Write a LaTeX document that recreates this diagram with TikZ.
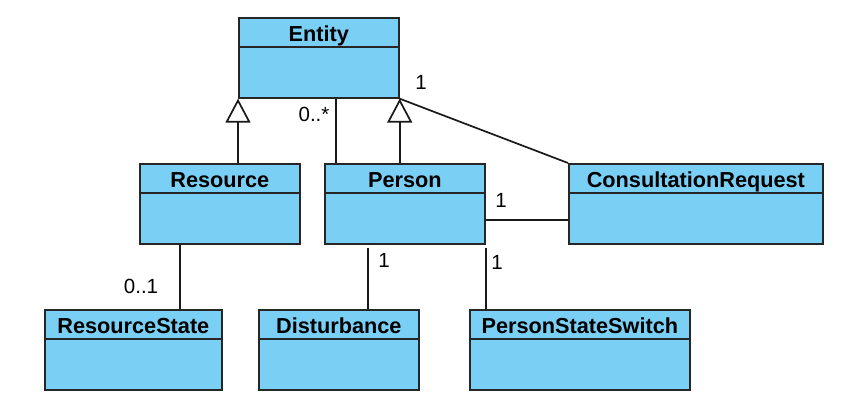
\documentclass[tikz,border=0pt]{standalone}
\usepackage{fontspec}
\setmainfont{Liberation Sans}
\usepackage{tikz}
\usetikzlibrary{arrows.meta,calc}

\definecolor{classblue}{RGB}{122,207,245}

\tikzset{
  classbox/.style={draw=black!85,line width=1.7pt,fill=classblue,minimum height=80pt,inner sep=0pt},
  classtitle/.style={font=\fontsize{21.7}{25}\selectfont\bfseries,inner sep=0pt,anchor=base},
  mult/.style={font=\fontsize{20.5}{24}\selectfont,inner sep=0pt},
  assoc/.style={line width=1.7pt,draw=black!90},
  inherit/.style={line width=1.7pt,draw=black!90,-{Triangle[open,length=24pt,width=25pt,fill=white]}}
}

% name, left, top, width, title
\newcommand{\umlclass}[5]{%
  \node[classbox,minimum width=#4pt,anchor=north west] (#1) at (#2,#3) {};
  \draw[line width=1.7pt,draw=black!85] ([yshift=-30pt]#1.north west) -- ([yshift=-30pt]#1.north east);
  \node[classtitle] (#1-title) at ([yshift=-24.5pt]#1.north) {#5};
}

\begin{document}
\begin{tikzpicture}[x=1pt,y=-1pt]
  \useasboundingbox (0,0) rectangle (867,417);
  % classes
  \umlclass{entity}{238}{17}{160}{Entity}
  \umlclass{resource}{139}{163}{160}{Resource}
  \umlclass{person}{324}{163}{160}{Person}
  \umlclass{consult}{568}{163}{254}{ConsultationRequest}
  \umlclass{resstate}{44}{309}{177}{ResourceState}
  \umlclass{disturb}{258}{309}{160}{Disturbance}
  \umlclass{switch}{469}{309}{220}{PersonStateSwitch}
  % generalisation
  \draw[inherit] (entity.south west |- resource.north) -- (entity.south west);
  \draw[inherit] (entity.south east |- person.north) -- (entity.south east);
  % associations
  \coordinate (pe) at ([xshift=12pt]person.north west);
  \draw[assoc] (pe) -- (pe |- entity.south);
  \node[mult] (m-pe) at (314,114) {0..*};
  \draw[assoc] (entity.south east) -- (consult.north west);
  \node[mult] (m-ec) at (421,82) {1};
  \coordinate (pc) at ([yshift=-16pt]person.east);
  \draw[assoc] (pc) -- (pc -| consult.west);
  \node[mult] (m-pc) at (501,200) {1};
  \coordinate (rr) at ([xshift=-40pt]resource.south);
  \draw[assoc] (rr) -- (rr |- resstate.north);
  \node[mult] (m-rr) at (141,286) {0..1};
  \coordinate (pd) at ([xshift=44pt]person.south west);
  \draw[assoc] ([yshift=-3pt]pd) -- (pd |- disturb.north);
  \node[mult] (m-pd) at (384,260) {1};
  \draw[assoc] ([yshift=-3pt]person.south east) -- (person.south east |- switch.north);
  \node[mult] (m-ps) at (497,262) {1};
\end{tikzpicture}
\end{document}
